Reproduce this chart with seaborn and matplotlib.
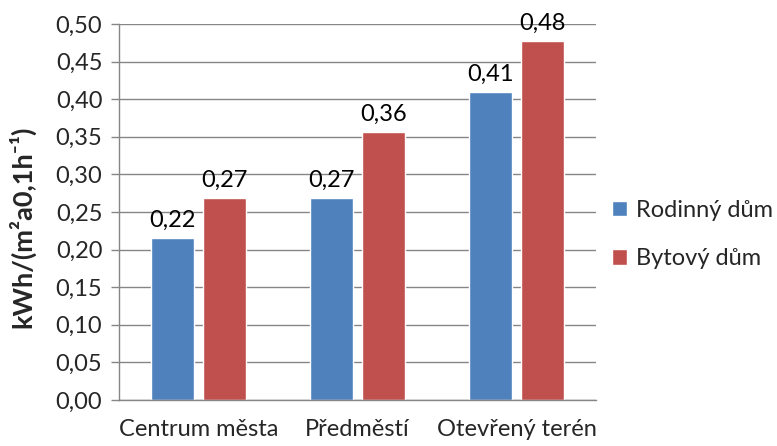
import matplotlib
matplotlib.use("Agg")
import matplotlib.pyplot as plt
import seaborn as sns
import pandas as pd

categories = ["Centrum města", "Předměstí", "Otevřený terén"]
series_names = ["Rodinný dům", "Bytový dům"]
rodinny = [0.216, 0.269, 0.41]
bytovy = [0.269, 0.356, 0.478]
yticks = [0.00, 0.05, 0.10, 0.15, 0.20, 0.25, 0.30, 0.35, 0.40, 0.45, 0.50]
colors = ["#4F81BD", "#C0504D"]

df = pd.DataFrame({
    "kategorie": categories * 2,
    "typ": [series_names[0]] * 3 + [series_names[1]] * 3,
    "hodnota": rodinny + bytovy,
})

sns.set_theme(style="white")
plt.rcParams["font.family"] = ["Lato", "DejaVu Sans"]
FS = 17

fig = plt.figure(figsize=(7.77, 4.46), dpi=100)
ax = fig.add_axes([119 / 777, 46 / 446, (596 - 119) / 777, (400 - 24) / 446])

sns.barplot(data=df, x="kategorie", y="hodnota", hue="typ", order=categories,
            hue_order=series_names, palette=colors, width=0.654, gap=0.175,
            saturation=1, ax=ax, legend=True, zorder=3)

for cont in ax.containers:
    labels = [f"{v:.2f}".replace(".", ",") for v in cont.datavalues]
    ax.bar_label(cont, labels=labels, padding=5, fontsize=FS, color="#000000")

ax.set_ylim(0, 0.5)
ax.set_xlim(-0.5, 2.5)
ax.set_yticks(yticks)
ax.set_yticklabels([f"{t:.2f}".replace(".", ",") for t in yticks], fontsize=FS)
ax.tick_params(axis="y", which="major", direction="out", length=6, width=1,
               color="#868686", left=True, pad=6)
ax.tick_params(axis="x", length=0, pad=14, labelsize=FS)
ax.yaxis.grid(True, color="#868686", linewidth=1, zorder=0)
ax.set_axisbelow(True)
for side in ["top", "right"]:
    ax.spines[side].set_visible(False)
for side in ["left", "bottom"]:
    ax.spines[side].set_color("#868686")
    ax.spines[side].set_linewidth(1)
    ax.spines[side].set_zorder(4)

ax.set_xlabel("")
ax.set_ylabel("kWh/(m²a0,1h⁻¹)", fontsize=19.5, fontweight="bold")
ax.yaxis.set_label_coords(-0.175, 0.46)

leg = ax.legend(loc="center left", bbox_to_anchor=(1.014, 0.44), frameon=False,
                borderaxespad=0, fontsize=FS, handlelength=0.65, handleheight=0.65,
                handletextpad=0.35, labelspacing=1.17)

fig.savefig("out.png", dpi=100)
